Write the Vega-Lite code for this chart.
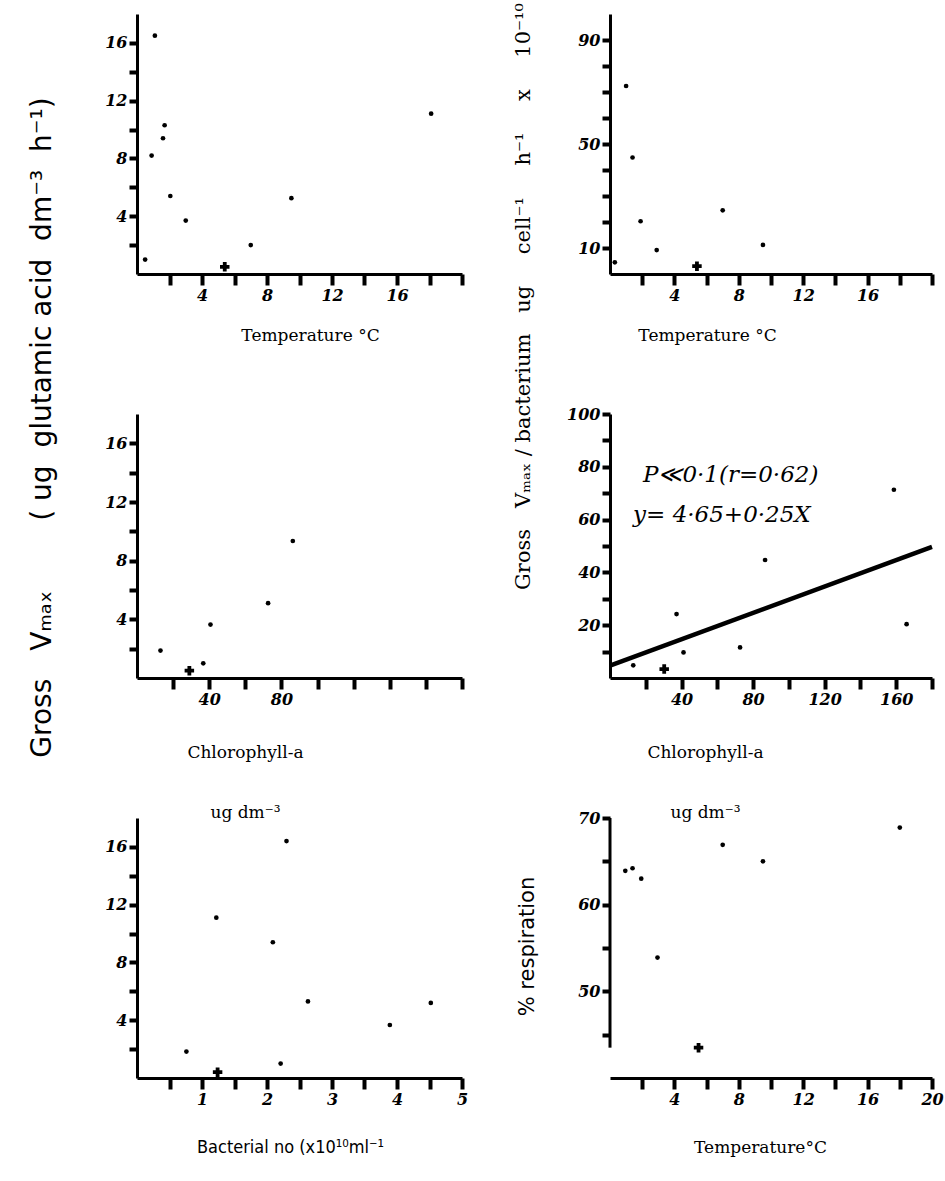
{
  "$schema": "https://vega.github.io/schema/vega-lite/v6.json",
  "background": "white",
  "padding": {"left": 27, "top": 2, "right": 2, "bottom": 5},
  "bounds": "flush",
  "columns": 2,
  "spacing": {"row": 140, "column": 148},
  "datasets": {
    "p1": [
      {"temp": 1.1, "vmax": 16.5, "m": "dot"},
      {"temp": 1.7, "vmax": 10.3, "m": "dot"},
      {"temp": 1.6, "vmax": 9.4, "m": "dot"},
      {"temp": 0.9, "vmax": 8.2, "m": "dot"},
      {"temp": 2.05, "vmax": 5.4, "m": "dot"},
      {"temp": 3.0, "vmax": 3.7, "m": "dot"},
      {"temp": 0.5, "vmax": 1.0, "m": "dot"},
      {"temp": 5.4, "vmax": 0.5, "m": "plus"},
      {"temp": 7.0, "vmax": 2.0, "m": "dot"},
      {"temp": 9.5, "vmax": 5.25, "m": "dot"},
      {"temp": 18.1, "vmax": 11.1, "m": "dot"}
    ],
    "p2": [
      {"temp": 1.0, "vb": 72.3, "m": "dot"},
      {"temp": 1.4, "vb": 44.8, "m": "dot"},
      {"temp": 1.9, "vb": 20.3, "m": "dot"},
      {"temp": 2.9, "vb": 9.2, "m": "dot"},
      {"temp": 0.3, "vb": 4.5, "m": "dot"},
      {"temp": 5.4, "vb": 3.0, "m": "plus"},
      {"temp": 7.0, "vb": 24.5, "m": "dot"},
      {"temp": 9.5, "vb": 11.2, "m": "dot"}
    ],
    "p3": [
      {"chl": 13, "vmax": 1.87, "m": "dot"},
      {"chl": 29, "vmax": 0.5, "m": "plus"},
      {"chl": 36.7, "vmax": 1.0, "m": "dot"},
      {"chl": 40.7, "vmax": 3.64, "m": "dot"},
      {"chl": 72.6, "vmax": 5.1, "m": "dot"},
      {"chl": 86.3, "vmax": 9.34, "m": "dot"}
    ],
    "p4": [
      {"chl": 13, "vb": 4.8, "m": "dot"},
      {"chl": 30.3, "vb": 3.4, "m": "plus"},
      {"chl": 37.2, "vb": 24.2, "m": "dot"},
      {"chl": 41.1, "vb": 9.7, "m": "dot"},
      {"chl": 72.7, "vb": 11.6, "m": "dot"},
      {"chl": 86.7, "vb": 44.7, "m": "dot"},
      {"chl": 158.7, "vb": 71.3, "m": "dot"},
      {"chl": 165.8, "vb": 20.4, "m": "dot"}
    ],
    "p4fit": [
      {"chl": 0, "vb": 4.65},
      {"chl": 180, "vb": 49.65}
    ],
    "p4note": [
      {"chl": 18.4, "vb": 76.9, "txt": "P≪0·1(r=0·62)"},
      {"chl": 12.9, "vb": 61.7, "txt": "y= 4·65+0·25X"}
    ],
    "p5": [
      {"bact": 0.76, "vmax": 1.83, "m": "dot"},
      {"bact": 1.22, "vmax": 11.1, "m": "dot"},
      {"bact": 1.24, "vmax": 0.4, "m": "plus"},
      {"bact": 2.09, "vmax": 9.4, "m": "dot"},
      {"bact": 2.21, "vmax": 1.0, "m": "dot"},
      {"bact": 2.3, "vmax": 16.4, "m": "dot"},
      {"bact": 2.63, "vmax": 5.3, "m": "dot"},
      {"bact": 3.89, "vmax": 3.67, "m": "dot"},
      {"bact": 4.52, "vmax": 5.2, "m": "dot"}
    ],
    "p6": [
      {"temp": 0.95, "resp": 63.9, "m": "dot"},
      {"temp": 1.4, "resp": 64.2, "m": "dot"},
      {"temp": 1.94, "resp": 63.0, "m": "dot"},
      {"temp": 2.95, "resp": 53.9, "m": "dot"},
      {"temp": 5.5, "resp": 43.5, "m": "plus"},
      {"temp": 7.0, "resp": 66.9, "m": "dot"},
      {"temp": 9.5, "resp": 65.0, "m": "dot"},
      {"temp": 18.0, "resp": 68.9, "m": "dot"}
    ],
    "p6axis": [
      {"temp": 0, "resp": 43.5, "hi": 70}
    ]
  },
  "concat": [
    {
      "width": 325, "height": 260,
      "data": {"name": "p1"},
      "mark": {"type": "point", "filled": true, "color": "black", "opacity": 1},
      "encoding": {
        "x": {"field": "temp", "type": "quantitative", "scale": {"domain": [0, 20], "nice": false},
          "axis": {"values": [2, 4, 6, 8, 10, 12, 14, 16, 18, 20], "labelExpr": "datum.value % 4 === 0 && datum.value < 20 ? datum.label : ''",
            "ticks": true, "tickSize": 11, "tickWidth": 4, "tickColor": "#000000",
            "title": "Temperature °C", "titleX": 173, "titleY": 66, "titleAlign": "center", "titleBaseline": "alphabetic"}},
        "y": {"field": "vmax", "type": "quantitative", "scale": {"domain": [0, 18], "nice": false},
          "axis": {"values": [2, 4, 6, 8, 10, 12, 14, 16], "labelExpr": "datum.value % 4 === 0 ? datum.label : ''", "title": null,
            "ticks": true, "tickSize": 8, "tickWidth": 4, "tickColor": "#000000"}},
        "shape": {"field": "m", "type": "nominal", "scale": {"domain": ["dot", "plus"], "range": ["circle", "cross"]}, "legend": null},
        "size": {"field": "m", "type": "ordinal", "scale": {"domain": ["dot", "plus"], "range": [22, 90]}, "legend": null}
      }
    },
    {
      "width": 322, "height": 260,
      "data": {"name": "p2"},
      "mark": {"type": "point", "filled": true, "color": "black", "opacity": 1},
      "encoding": {
        "x": {"field": "temp", "type": "quantitative", "scale": {"domain": [0, 20], "nice": false},
          "axis": {"values": [2, 4, 6, 8, 10, 12, 14, 16, 18, 20], "labelExpr": "datum.value % 4 === 0 && datum.value < 20 ? datum.label : ''",
            "ticks": true, "tickSize": 11, "tickWidth": 4, "tickColor": "#000000",
            "title": "Temperature °C", "titleX": 97, "titleY": 66, "titleAlign": "center", "titleBaseline": "alphabetic"}},
        "y": {"field": "vb", "type": "quantitative", "scale": {"domain": [0, 100], "nice": false},
          "axis": {"values": [10, 20, 30, 40, 50, 60, 70, 80, 90], "labelExpr": "datum.value === 10 || datum.value === 50 || datum.value === 90 ? datum.label : ''",
            "ticks": true, "tickSize": 8, "tickWidth": 4, "tickColor": "#000000",
            "title": "Gross\u2003V\u2098\u2090\u2093 / bacterium\u2003ug\u2003\u2002cell\u207b\u00b9\u2003\u2002h\u207b\u00b9\u2003\u2002x\u2003\u200210\u207b\u00b9\u2070", "titleX": -87, "titleY": 282, "titleAlign": "center", "titleBaseline": "middle", "titleAngle": -90, "titleFontSize": 21}},
        "shape": {"field": "m", "type": "nominal", "scale": {"domain": ["dot", "plus"], "range": ["circle", "cross"]}, "legend": null},
        "size": {"field": "m", "type": "ordinal", "scale": {"domain": ["dot", "plus"], "range": [22, 90]}, "legend": null}
      }
    },
    {
      "width": 325, "height": 264,
      "data": {"name": "p3"},
      "mark": {"type": "point", "filled": true, "color": "black", "opacity": 1},
      "encoding": {
        "x": {"field": "chl", "type": "quantitative", "scale": {"domain": [0, 180], "nice": false},
          "axis": {"values": [20, 40, 60, 80, 100, 120, 140, 160, 180], "labelExpr": "datum.value === 40 || datum.value === 80 ? datum.label : ''",
            "ticks": true, "tickSize": 11, "tickWidth": 4, "tickColor": "#000000",
            "title": ["Chlorophyll-a", "ug dm⁻³"], "titleLineHeight": 60, "titleX": 108, "titleY": 79, "titleAlign": "center", "titleBaseline": "alphabetic"}},
        "y": {"field": "vmax", "type": "quantitative", "scale": {"domain": [0, 18], "nice": false},
          "axis": {"values": [2, 4, 6, 8, 10, 12, 14, 16], "labelExpr": "datum.value % 4 === 0 ? datum.label : ''",
            "ticks": true, "tickSize": 8, "tickWidth": 4, "tickColor": "#000000",
            "title": "Gross\u2003V\u2098\u2090\u2093\u2003\u2003\u2002(\u00a0ug\u00a0\u00a0glutamic acid\u00a0\u00a0dm\u207b\u00b3\u00a0\u00a0h\u207b\u00b9)", "titleX": -95, "titleY": 13, "titleAlign": "center", "titleBaseline": "middle", "titleAngle": -90,
            "titleFont": "DejaVu Sans", "titleFontSize": 28}},
        "shape": {"field": "m", "type": "nominal", "scale": {"domain": ["dot", "plus"], "range": ["circle", "cross"]}, "legend": null},
        "size": {"field": "m", "type": "ordinal", "scale": {"domain": ["dot", "plus"], "range": [22, 90]}, "legend": null}
      }
    },
    {
      "width": 322, "height": 264,
      "encoding": {
        "x": {"field": "chl", "type": "quantitative", "scale": {"domain": [0, 180], "nice": false},
          "axis": {"values": [20, 40, 60, 80, 100, 120, 140, 160, 180], "labelExpr": "datum.value % 40 === 0 && datum.value < 180 ? datum.label : ''",
            "ticks": true, "tickSize": 11, "tickWidth": 4, "tickColor": "#000000",
            "title": ["Chlorophyll-a", "ug dm⁻³"], "titleLineHeight": 60, "titleX": 95, "titleY": 79, "titleAlign": "center", "titleBaseline": "alphabetic"}},
        "y": {"field": "vb", "type": "quantitative", "scale": {"domain": [0, 100], "nice": false},
          "axis": {"values": [10, 20, 30, 40, 50, 60, 70, 80, 90, 100], "labelExpr": "datum.value % 20 === 0 ? datum.label : ''", "title": null,
            "ticks": true, "tickSize": 8, "tickWidth": 4, "tickColor": "#000000"}}
      },
      "layer": [
        {
          "data": {"name": "p4fit"},
          "mark": {"type": "line", "color": "black", "strokeWidth": 4.5}
        },
        {
          "data": {"name": "p4"},
          "mark": {"type": "point", "filled": true, "color": "black", "opacity": 1},
          "encoding": {
            "shape": {"field": "m", "type": "nominal", "scale": {"domain": ["dot", "plus"], "range": ["circle", "cross"]}, "legend": null},
            "size": {"field": "m", "type": "ordinal", "scale": {"domain": ["dot", "plus"], "range": [22, 90]}, "legend": null}
          }
        },
        {
          "data": {"name": "p4note"},
          "mark": {"type": "text", "align": "left", "baseline": "middle", "font": "DejaVu Serif", "fontStyle": "italic", "fontSize": 23, "color": "black"},
          "encoding": {
            "text": {"field": "txt"}
          }
        }
      ]
    },
    {
      "width": 325, "height": 260,
      "data": {"name": "p5"},
      "mark": {"type": "point", "filled": true, "color": "black", "opacity": 1},
      "encoding": {
        "x": {"field": "bact", "type": "quantitative", "scale": {"domain": [0, 5], "nice": false},
          "axis": {"values": [0.5, 1, 1.5, 2, 2.5, 3, 3.5, 4, 4.5, 5], "labelExpr": "datum.value % 1 === 0 ? format(datum.value, 'd') : ''",
            "ticks": true, "tickSize": 11, "tickWidth": 4, "tickColor": "#000000",
            "title": "Bacterial no (x10¹⁰ml⁻¹", "titleX": 153, "titleY": 74, "titleAlign": "center", "titleBaseline": "alphabetic",
            "titleFont": "DejaVu Sans Condensed, DejaVu Sans", "titleFontSize": 18}},
        "y": {"field": "vmax", "type": "quantitative", "scale": {"domain": [0, 18], "nice": false},
          "axis": {"values": [2, 4, 6, 8, 10, 12, 14, 16], "labelExpr": "datum.value % 4 === 0 ? datum.label : ''", "title": null,
            "ticks": true, "tickSize": 8, "tickWidth": 4, "tickColor": "#000000"}},
        "shape": {"field": "m", "type": "nominal", "scale": {"domain": ["dot", "plus"], "range": ["circle", "cross"]}, "legend": null},
        "size": {"field": "m", "type": "ordinal", "scale": {"domain": ["dot", "plus"], "range": [22, 90]}, "legend": null}
      }
    },
    {
      "width": 322, "height": 260,
      "encoding": {
        "x": {"field": "temp", "type": "quantitative", "scale": {"domain": [0, 20], "nice": false},
          "axis": {"values": [2, 4, 6, 8, 10, 12, 14, 16, 18, 20], "labelExpr": "datum.value % 4 === 0 ? datum.label : ''",
            "ticks": true, "tickSize": 11, "tickWidth": 4, "tickColor": "#000000",
            "title": "Temperature°C", "titleX": 150, "titleY": 74, "titleAlign": "center", "titleBaseline": "alphabetic"}},
        "y": {"field": "resp", "type": "quantitative", "scale": {"domain": [40, 70], "nice": false, "zero": false},
          "axis": {"domain": false, "values": [45, 50, 55, 60, 65, 70], "labelExpr": "datum.value % 10 === 0 ? datum.label : ''",
            "ticks": true, "tickSize": 8, "tickWidth": 4, "tickColor": "#000000",
            "title": "% respiration", "titleX": -83, "titleY": 128, "titleAlign": "center", "titleBaseline": "middle", "titleAngle": -90,
            "titleFont": "DejaVu Sans", "titleFontSize": 21}}
      },
      "layer": [
        {
          "data": {"name": "p6axis"},
          "mark": {"type": "rule", "color": "black", "strokeWidth": 3},
          "encoding": {
            "y2": {"field": "hi"}
          }
        },
        {
          "data": {"name": "p6"},
          "mark": {"type": "point", "filled": true, "color": "black", "opacity": 1},
          "encoding": {
            "shape": {"field": "m", "type": "nominal", "scale": {"domain": ["dot", "plus"], "range": ["circle", "cross"]}, "legend": null},
            "size": {"field": "m", "type": "ordinal", "scale": {"domain": ["dot", "plus"], "range": [22, 90]}, "legend": null}
          }
        }
      ]
    }
  ],
  "config": {
    "view": {"stroke": null},
    "font": "DejaVu Serif",
    "axis": {
      "domainColor": "black", "domainWidth": 3,
      "labelFont": "DejaVu Serif", "labelFontStyle": "italic", "labelFontWeight": "bold", "labelFontSize": 16,
      "labelColor": "black", "labelPadding": 2, "labelOverlap": false, "labelFlush": false, "grid": false,
      "titleColor": "black", "titleFontWeight": "normal", "titleFont": "DejaVu Serif", "titleFontSize": 17
    }
  }
}
